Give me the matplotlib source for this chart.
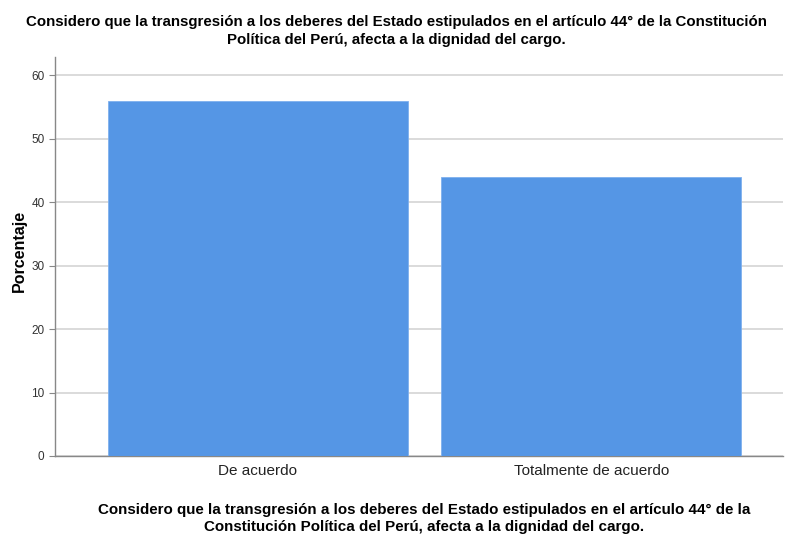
import matplotlib
matplotlib.use('Agg')
import matplotlib.pyplot as plt

categorias = ['De acuerdo', 'Totalmente de acuerdo']
porcentajes = [56.0, 44.0]
yticks = [0, 10, 20, 30, 40, 50, 60]

titulo = ('Considero que la transgresión a los deberes del Estado estipulados en el artículo 44° de la Constitución\n'
          'Política del Perú, afecta a la dignidad del cargo.')
xtitulo = ('Considero que la transgresión a los deberes del Estado estipulados en el artículo 44° de la\n'
           'Constitución Política del Perú, afecta a la dignidad del cargo.')

plt.rcParams['font.family'] = ['Liberation Sans', 'DejaVu Sans']

fig = plt.figure(figsize=(7.85, 5.35), dpi=100)
ax = fig.add_axes([0.070, 0.1477, 0.927, 0.745])

ax.bar(range(len(categorias)), porcentajes, width=0.9, color='#5596e5',
       edgecolor='#7fb0ee', linewidth=0.6, zorder=3)
ax.set_xlim(-0.609, 1.574)
ax.set_ylim(0, 62.8)
ax.set_yticks(yticks)
ax.set_xticks(range(len(categorias)))
ax.set_xticklabels(categorias, fontsize=11, color='#222222')
ax.tick_params(axis='y', labelsize=8.5, colors='#333333', length=4, color='#888888')
ax.tick_params(axis='x', length=0, pad=6)
ax.yaxis.grid(True, color='#d4d4d4', linewidth=1.2, zorder=0)
for s in ['top', 'right']:
    ax.spines[s].set_visible(False)
for s in ['left', 'bottom']:
    ax.spines[s].set_color('#888888')
    ax.spines[s].set_linewidth(1.0)

ax.set_ylabel('Porcentaje', fontsize=11.5, fontweight='bold')
ax.yaxis.set_label_coords(-0.038, 0.514)

fig.text(0.505, 0.972, titulo, ha='center', va='top', fontsize=10.8, fontweight='bold',
         linespacing=1.35)
fig.text(0.540, 0.060, xtitulo, ha='center', va='top', fontsize=10.9, fontweight='bold',
         linespacing=1.3)

fig.savefig('out.png', dpi=100)
